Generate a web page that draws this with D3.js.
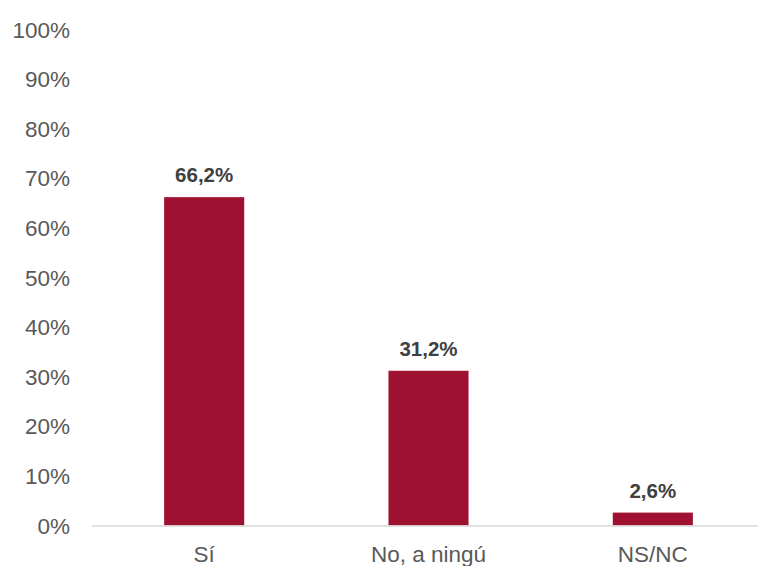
<!DOCTYPE html>
<html><head><meta charset="utf-8">
<script src="https://cdn.jsdelivr.net/npm/d3@7"></script>
<style>body{margin:0;background:#fff}svg{display:block}</style>
</head><body>
<svg id="c" width="758" height="566"></svg>
<script>
const categories = ["Sí", "No, a ningú", "NS/NC"];
const values = [66.2, 31.2, 2.6];
const valueLabels = ["66,2%", "31,2%", "2,6%"];
const yTicks = [0,10,20,30,40,50,60,70,80,90,100];
const yTickLabels = ["0%","10%","20%","30%","40%","50%","60%","70%","80%","90%","100%"];

const svg = d3.select("#c");
const x = d3.scaleBand().domain(categories).range([92, 765]).paddingInner(0.643).paddingOuter(0.3215);
const y = d3.scaleLinear().domain([0, 100]).range([525.5, 29.5]);

// y tick labels
svg.append("g").selectAll("text").data(yTicks).join("text")
  .attr("x", 70).attr("y", d => y(d)).attr("dy", "0.36em")
  .attr("text-anchor", "end")
  .attr("font-family", "Liberation Sans, Arial, sans-serif")
  .attr("font-size", "22.5px").attr("fill", "#595959")
  .text((d,i) => yTickLabels[i]);

// bars
svg.append("g").selectAll("rect").data(values).join("rect")
  .attr("x", (d,i) => x(categories[i]))
  .attr("width", x.bandwidth())
  .attr("y", d => y(d))
  .attr("height", d => y(0) - y(d))
  .attr("fill", "#9E1131");

// baseline
svg.append("line").attr("x1", 92).attr("x2", 758)
  .attr("y1", y(0)+0.5).attr("y2", y(0)+0.5)
  .attr("stroke", "#d9d9d9").attr("stroke-width", 1.5);

// value labels
svg.append("g").selectAll("text").data(values).join("text")
  .attr("x", (d,i) => x(categories[i]) + x.bandwidth()/2)
  .attr("y", d => y(d) - 15)
  .attr("text-anchor", "middle")
  .attr("font-family", "Liberation Sans, Arial, sans-serif")
  .attr("font-weight", "bold")
  .attr("font-size", "20.5px").attr("fill", "#404040")
  .text((d,i) => valueLabels[i]);

// category labels
svg.append("g").selectAll("text").data(categories).join("text")
  .attr("x", d => x(d) + x.bandwidth()/2)
  .attr("y", 562)
  .attr("text-anchor", "middle")
  .attr("font-family", "Liberation Sans, Arial, sans-serif")
  .attr("font-size", "22.5px").attr("fill", "#595959")
  .text(d => d);
</script>
</body></html>
